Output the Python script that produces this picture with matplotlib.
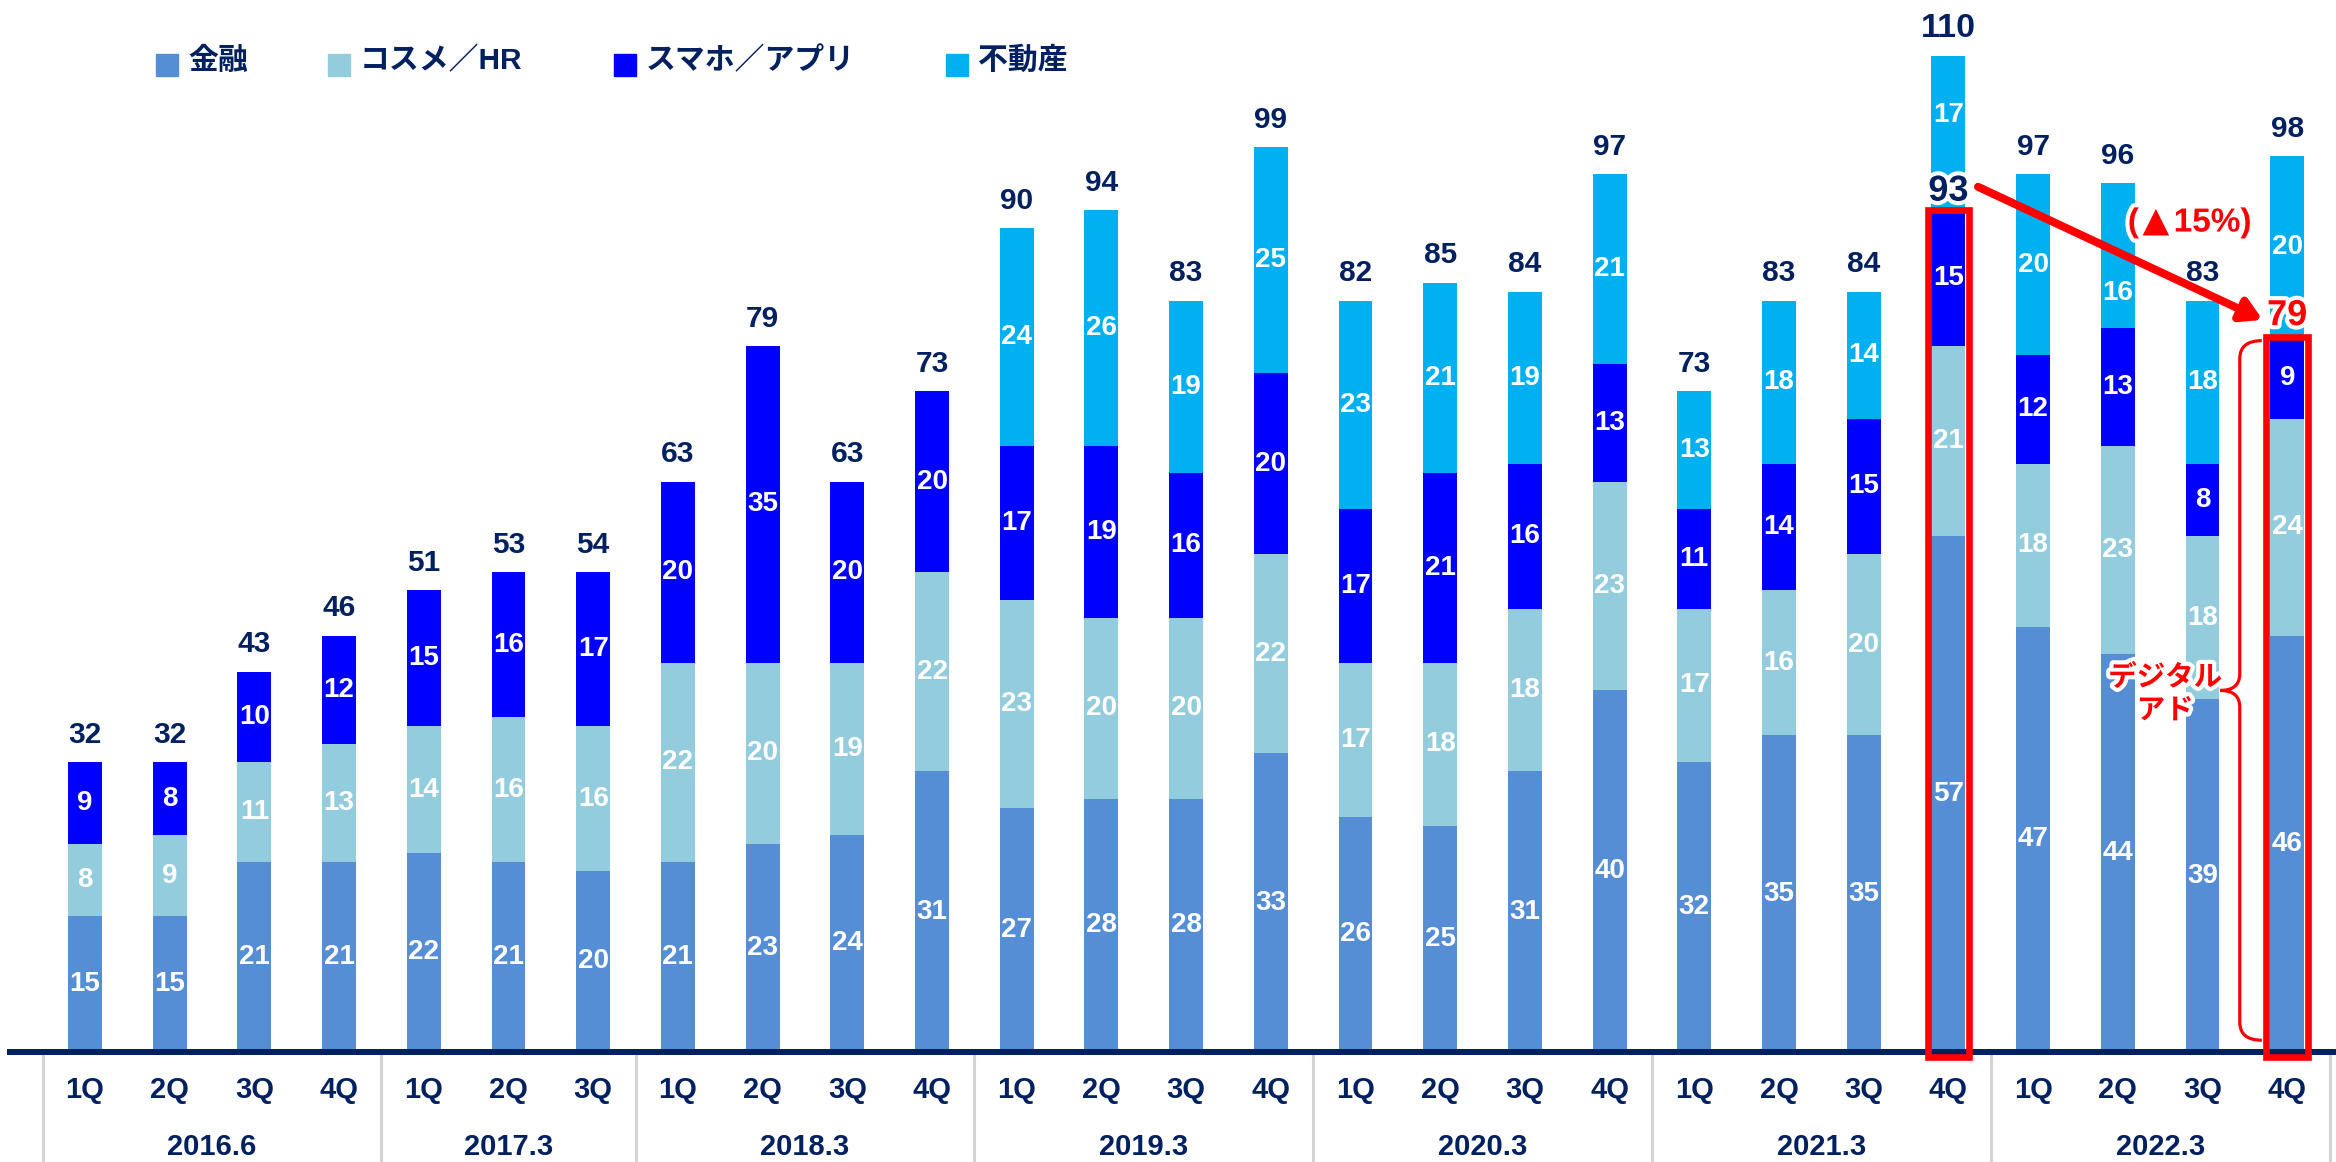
import matplotlib.pyplot as plt
import matplotlib.patheffects as pe
from matplotlib.patches import Rectangle, PathPatch
from matplotlib.path import Path
import numpy as np

plt.rcParams['font.family'] = ['Liberation Sans', 'Noto Sans CJK JP', 'DejaVu Sans']
plt.rcParams['font.weight'] = 'bold'

# 四半期と決算期
quarters = ['1Q', '2Q', '3Q', '4Q',
            '1Q', '2Q', '3Q',
            '1Q', '2Q', '3Q', '4Q',
            '1Q', '2Q', '3Q', '4Q',
            '1Q', '2Q', '3Q', '4Q',
            '1Q', '2Q', '3Q', '4Q',
            '1Q', '2Q', '3Q', '4Q']
years = ['2016.6', '2017.3', '2018.3', '2019.3', '2020.3', '2021.3', '2022.3']
year_counts = [4, 3, 4, 4, 4, 4, 4]

# 事業別の売上
kinyu = [15, 15, 21, 21, 22, 21, 20, 21, 23, 24, 31, 27, 28, 28, 33,
         26, 25, 31, 40, 32, 35, 35, 57, 47, 44, 39, 46]
cosme_hr = [8, 9, 11, 13, 14, 16, 16, 22, 20, 19, 22, 23, 20, 20, 22,
            17, 18, 18, 23, 17, 16, 20, 21, 18, 23, 18, 24]
sumaho_app = [9, 8, 10, 12, 15, 16, 17, 20, 35, 20, 20, 17, 19, 16, 20,
              17, 21, 16, 13, 11, 14, 15, 15, 12, 13, 8, 9]
fudosan = [0, 0, 0, 0, 0, 0, 0, 0, 0, 0, 0, 24, 26, 19, 25,
           23, 21, 19, 21, 13, 18, 14, 17, 20, 16, 18, 20]
totals = [32, 32, 43, 46, 51, 53, 54, 63, 79, 63, 73, 90, 94, 83, 99,
          82, 85, 84, 97, 73, 83, 84, 110, 97, 96, 83, 98]

names = ['金融', 'コスメ／HR', 'スマホ／アプリ', '不動産']
colors = ['#558ED5', '#93CDDD', '#0000FF', '#00B0F0']
navy = '#002060'
red = '#FF0000'

# 矢印と重ならないようにずらすラベル (棒, 系列) -> 縦方向のずれ
label_shift = {(22, 3): 2.0, (24, 3): -4.1}

W, H = 2336, 1162
fig = plt.figure(figsize=(W / 100, H / 100), dpi=100)
ax = fig.add_axes([0, 110 / H, 1, 1052 / H])
ax.set_xlim(-85 / 84.7, (W - 85) / 84.7)
ax.set_ylim(0, 1052 / 9.05)
ax.set_axis_off()

x = np.arange(len(quarters))
bottom = np.zeros(len(x))
for k, (vals, c) in enumerate(zip([kinyu, cosme_hr, sumaho_app, fudosan], colors)):
    vals = np.array(vals, dtype=float)
    ax.bar(x, vals, 0.4, bottom=bottom, color=c, zorder=2)
    for xi, v, b in zip(x, vals, bottom):
        if v > 0:
            ax.text(xi, b + v / 2 + label_shift.get((xi, k), 0), f'{v:.0f}',
                    ha='center', va='center', color='white', fontsize=20,
                    zorder=5)
    bottom += vals

# 合計ラベル
for xi, top, t in zip(x, bottom, totals):
    ax.annotate(str(t), (xi, top), xytext=(0, 14), textcoords='offset points',
                ha='center', va='baseline', color=navy,
                fontsize=24.5 if t >= 100 else 21.5, zorder=6)

# 横軸
trans = ax.get_xaxis_transform()
ax.plot([-0.92, 26.6], [0, 0], color=navy, lw=4.3, solid_capstyle='butt',
        clip_on=False, zorder=3)
for xi, q in zip(x, quarters):
    ax.text(xi, -0.036, q, transform=trans, ha='center', va='center',
            fontsize=21, color=navy)
starts = np.concatenate([[0], np.cumsum(year_counts)])
for b in starts:
    ax.plot([b - 0.5, b - 0.5], [-0.004, -0.11], transform=trans,
            color='#d4d4d4', lw=2.2, clip_on=False)
for y, s, n in zip(years, starts[:-1], year_counts):
    ax.text(s + (n - 1) / 2, -0.0905, y, transform=trans, ha='center',
            va='center', fontsize=21, color=navy)

# 凡例
leg_x = [156, 328, 614, 946]
for lx, name, c in zip(leg_x, names, colors):
    fig.patches.append(Rectangle((lx / W, 1 - 76 / H), 22 / W, 22 / H,
                                 transform=fig.transFigure, color=c))
    fig.text((lx + 32) / W, 1 - 61 / H, name, ha='left', va='center',
             fontsize=21.5, color=navy)

# デジタル広告（金融＋コスメ/HR＋スマホ/アプリ）の比較
digital = np.array(kinyu) + np.array(cosme_hr) + np.array(sumaho_app)
i0, i1 = 22, 26
glow = [pe.withStroke(linewidth=6, foreground='white')]
for i in (i0, i1):
    ax.add_patch(Rectangle((i - 0.245, -0.5), 0.49, digital[i] + 0.5,
                           fill=False, ec=red, lw=4.8, zorder=4, clip_on=False))
ax.annotate(f'{digital[i0]}', (i0, digital[i0]), xytext=(0, 7),
            textcoords='offset points', ha='center', va='baseline',
            fontsize=26, color=navy, zorder=7, path_effects=glow)
ax.annotate(f'{digital[i1]}', (i1, digital[i1]), xytext=(0, 8.6),
            textcoords='offset points', ha='center', va='baseline',
            fontsize=26, color=red, zorder=7, path_effects=glow)
ax.annotate('', xy=(25.71, 80.9), xytext=(22.35, 95.6),
            arrowprops=dict(arrowstyle='-|>,head_length=0.6,head_width=0.35',
                            lw=5.8, color=red, mutation_scale=20,
                            shrinkA=0, shrinkB=0), zorder=7)

# 増減率 (▲は大きめの三角で描く)
change = (digital[i1] - digital[i0]) / digital[i0] * 100
yc = 91.6
ax.text(24.25, yc, '(', ha='right', va='center', fontsize=24, color=red,
        zorder=7, path_effects=glow)
ax.text(24.45, yc + 0.2, '▲', ha='center', va='center', fontsize=25,
        family='DejaVu Sans', color=red, zorder=7, path_effects=glow)
ax.text(24.66, yc, f'{abs(change):.0f}%)', ha='left', va='center',
        fontsize=24, color=red, zorder=7, path_effects=glow)

# 中括弧
xv, xt, xr = 25.44, 25.21, 25.70
ytop, ybot = digital[i1] - 0.4, 1.3
ymid = (ytop + ybot) / 2
ry, ry2 = 2.0, 1.85
verts = [(xr, ytop), (xv, ytop), (xv, ytop - ry), (xv, ymid + ry2),
         (xv, ymid), (xt, ymid), (xv, ymid), (xv, ymid - ry2),
         (xv, ybot + ry), (xv, ybot), (xr, ybot)]
codes = [Path.MOVETO, Path.CURVE3, Path.CURVE3, Path.LINETO,
         Path.CURVE3, Path.CURVE3, Path.CURVE3, Path.CURVE3,
         Path.LINETO, Path.CURVE3, Path.CURVE3]
ax.add_patch(PathPatch(Path(verts, codes), fill=False, ec=red, lw=2.3,
                       zorder=6, clip_on=False))
ax.text(24.56, 41.3, 'デジタル', ha='center', va='center', fontsize=20.5,
        color=red, zorder=7, path_effects=glow)
ax.text(24.56, 37.6, 'アド', ha='center', va='center', fontsize=20.5,
        color=red, zorder=7, path_effects=glow)

fig.savefig('out.png', dpi=100)
